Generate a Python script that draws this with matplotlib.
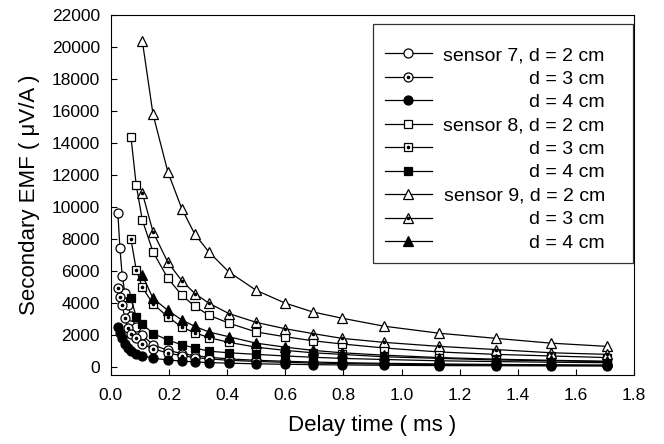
import numpy as np
import matplotlib.pyplot as plt

plt.rcParams['font.family'] = ['Liberation Sans', 'DejaVu Sans']

# delay time gates (ms)
gates = [0.024, 0.031, 0.039, 0.048, 0.058, 0.069, 0.087, 0.108, 0.145, 0.196,
         0.244, 0.289, 0.337, 0.406, 0.50, 0.60, 0.695, 0.795, 0.94, 1.13,
         1.325, 1.515, 1.707]

# sensor 7 starts at the first gate, sensor 8 at 0.069 ms, sensor 9 at 0.108 ms
s7_d2 = [9650, 7450, 5700, 4650, 3900, 3200, 2500, 2000, 1400, 1050, 850, 720,
         620, 520, 430, 370, 320, 280, 240, 200, 170, 150, 130]
s7_d3 = [4950, 4400, 3900, 3050, 2450, 2100, 1800, 1450, 1150, 880, 720, 600,
         520, 430, 360, 300, 260, 230, 190, 160, 140, 120, 110]
s7_d4 = [2500, 2150, 1800, 1450, 1200, 1000, 850, 720, 560, 450, 380, 330,
         290, 250, 210, 180, 160, 140, 120, 100, 90, 80, 70]

s8_d2 = [14400, 11400, 9200, 7200, 5550, 4500, 3800, 3250, 2750, 2200, 1900,
         1650, 1450, 1200, 950, 800, 700, 600]
s8_d3 = [8000, 6100, 5000, 3950, 3150, 2500, 2150, 1850, 1550, 1250, 1050,
         900, 800, 650, 550, 450, 400, 350]
s8_d4 = [4300, 3150, 2700, 2100, 1700, 1400, 1200, 1000, 900, 800, 700, 620,
         550, 480, 400, 350, 310, 280]

s9_d2 = [20400, 15800, 12200, 9900, 8300, 7200, 5950, 4800, 4000, 3450, 3060,
         2560, 2120, 1800, 1500, 1300]
s9_d3 = [10900, 8450, 6550, 5400, 4600, 4000, 3350, 2800, 2400, 2100, 1800,
         1550, 1300, 1100, 900, 800]
s9_d4 = [5750, 4300, 3550, 2950, 2550, 2200, 1900, 1500, 1250, 1050, 900, 750,
         600, 500, 430, 370]

labels = ['sensor 7, d = 2 cm', 'd = 3 cm', 'd = 4 cm',
          'sensor 8, d = 2 cm', 'd = 3 cm', 'd = 4 cm',
          'sensor 9, d = 2 cm', 'd = 3 cm', 'd = 4 cm']

series = [(0, s7_d2, 'o', 'open'), (0, s7_d3, 'o', 'dot'), (0, s7_d4, 'o', 'fill'),
          (5, s8_d2, 's', 'open'), (5, s8_d3, 's', 'dot'), (5, s8_d4, 's', 'fill'),
          (7, s9_d2, '^', 'open'), (7, s9_d3, '^', 'dot'), (7, s9_d4, '^', 'fill')]

fig = plt.figure(figsize=(6.64, 4.44), dpi=100)
ax = fig.add_axes([0.167, 0.155, 0.788, 0.811])

handles = []
for start, vals, mk, style in series:
    t = gates[start:start + len(vals)]
    face = 'black' if style == 'fill' else 'white'
    ms = 6.5 if mk != 's' else 6
    ln, = ax.plot(t, vals, color='black', lw=0.9, marker=mk, ms=ms,
                  mfc=face, mec='black', mew=0.9)
    if style == 'dot':
        dt, = ax.plot(t, vals, ls='none', marker='o', ms=1.6, color='black')
        handles.append((ln, dt))
    else:
        handles.append(ln)

ax.set_xlim(0, 1.8)
ax.set_ylim(-500, 22000)
ax.set_xticks(np.arange(0, 1.81, 0.2))
ax.set_xticklabels(['%.1f' % v for v in np.arange(0, 1.81, 0.2)])
ax.set_yticks(np.arange(0, 22001, 2000))
ax.tick_params(direction='in', length=4, labelsize=12.5, pad=8)
ax.tick_params(axis='x', pad=9)

ax.set_xlabel('Delay time ( ms )', fontsize=16, labelpad=9)
ax.set_ylabel('Secondary EMF ( \u03bcV/A )', fontsize=16, labelpad=8)

# trailing spaces give the wider right margin seen in the original box
leg = ax.legend(handles, [s + '   ' for s in labels], loc='upper right',
                bbox_to_anchor=(0.997, 0.975), borderaxespad=0, fontsize=14,
                frameon=True, fancybox=False, edgecolor='black',
                handlelength=2.4, labelspacing=0.3, borderpad=0.6,
                handletextpad=0.6, title=' ', title_fontsize=4)
leg.get_frame().set_linewidth(0.9)

# right-align legend labels
fig.canvas.draw()
renderer = fig.canvas.get_renderer()
texts = leg.get_texts()
widths = [tx.get_window_extent(renderer).width for tx in texts]
maxw = max(widths)
for tx, w in zip(texts, widths):
    tx.set_position((maxw - w, 0))

fig.savefig('out.png', dpi=100)
